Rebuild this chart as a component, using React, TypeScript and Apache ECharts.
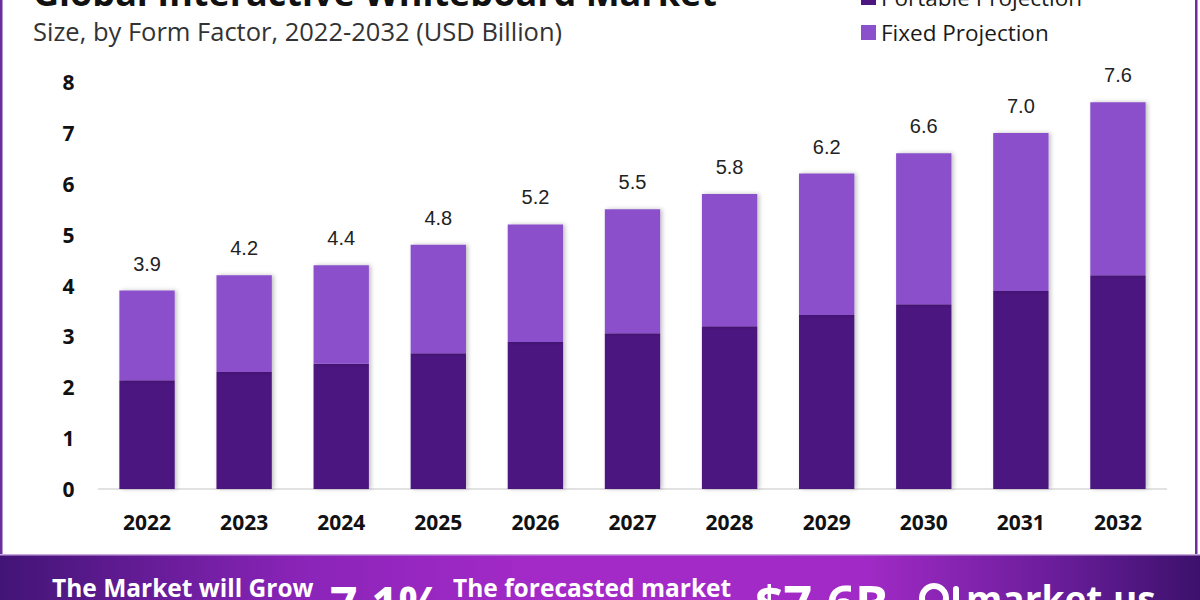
import React, { useEffect, useRef } from "react";
import * as echarts from "echarts";

const years = ["2022", "2023", "2024", "2025", "2026", "2027", "2028", "2029", "2030", "2031", "2032"];
const portable = [2.14, 2.3, 2.46, 2.67, 2.89, 3.06, 3.2, 3.42, 3.63, 3.89, 4.2];
const fixed = [1.76, 1.9, 1.94, 2.13, 2.31, 2.44, 2.6, 2.78, 2.97, 3.11, 3.4];
const totals = ["3.9", "4.2", "4.4", "4.8", "5.2", "5.5", "5.8", "6.2", "6.6", "7.0", "7.6"];
const seriesNames = ["Portable Projection", "Fixed Projection"];

const DARK = "#4b1680";
const LIGHT = "#8b50cb";

export default function App() {
  const ref = useRef<HTMLDivElement>(null);
  useEffect(() => {
    if (!ref.current) return;
    const chart = echarts.init(ref.current, null, { renderer: "svg" });
    const shadow = {
      shadowBlur: 4,
      shadowColor: "rgba(0,0,0,0.25)",
      shadowOffsetX: 2,
      shadowOffsetY: 0,
    };
    const bannerText = (text: string, x: number, y: number, size: number) => ({
      type: "text",
      x,
      y,
      style: {
        text,
        fontFamily: "Open Sans",
        fontWeight: "bold",
        fontSize: size,
        fill: "#ffffff",
        verticalAlign: "middle",
      },
    });
    chart.setOption({
      animation: false,
      backgroundColor: "#ffffff",
      grid: { left: 98.5, right: 33.5, top: 82, bottom: 111, containLabel: false },
      legend: {
        orient: "vertical",
        left: 856,
        top: -19,
        itemWidth: 15,
        itemHeight: 15,
        itemGap: 12,
        icon: "rect",
        data: seriesNames,
        textStyle: {
          fontFamily: "Open Sans",
          fontSize: 22.5,
          fontWeight: 500,
          color: "#1a1a1a",
          lineHeight: 22,
          padding: [0, 0, 0, 0],
        },
      },
      xAxis: {
        type: "category",
        data: years,
        axisLine: { show: true, lineStyle: { color: "#d9d9d9", width: 1.5 } },
        axisTick: { show: false },
        axisLabel: {
          margin: 22,
          fontFamily: "Open Sans",
          fontWeight: "bold",
          fontSize: 21,
          color: "#111",
        },
      },
      yAxis: {
        type: "value",
        min: 0,
        max: 8,
        interval: 1,
        splitLine: { show: false },
        axisLine: { show: false },
        axisTick: { show: false },
        axisLabel: {
          margin: 24,
          fontFamily: "Open Sans",
          fontWeight: "bold",
          fontSize: 21,
          color: "#111",
        },
      },
      series: [
        {
          name: seriesNames[0],
          type: "bar",
          stack: "total",
          data: portable,
          barWidth: "57%",
          itemStyle: { color: DARK, ...shadow },
        },
        {
          name: seriesNames[1],
          type: "bar",
          stack: "total",
          data: fixed,
          barWidth: "57%",
          itemStyle: { color: LIGHT, ...shadow },
          label: {
            show: true,
            position: "top",
            distance: 17,
            fontFamily: "Liberation Sans",
            fontSize: 20,
            color: "#222",
            formatter: (p: any) => totals[p.dataIndex],
          },
        },
      ],
      graphic: [
        {
          type: "text",
          left: 33,
          top: -26,
          style: {
            text: "Global Interactive Whiteboard Market",
            fontFamily: "Open Sans",
            fontWeight: "bold",
            fontSize: 36,
            fill: "#111",
          },
        },
        {
          type: "text",
          x: 33,
          y: 31,
          style: {
            text: "Size, by Form Factor, 2022-2032 (USD Billion)",
            fontFamily: "Open Sans",
            fontSize: 25.5,
            fill: "#333",
            verticalAlign: "middle",
          },
        },
        {
          type: "rect",
          shape: { x: 0, y: 0, width: 2.5, height: 555 },
          style: { fill: "#6b2e9c" },
        },
        {
          type: "rect",
          shape: { x: 1195, y: 0, width: 2.5, height: 555 },
          style: { fill: "#6b2e9c" },
        },
        {
          type: "rect",
          shape: { x: 0, y: 554, width: 1200, height: 46 },
          style: {
            fill: new echarts.graphic.LinearGradient(0, 0, 1, 0, [
              { offset: 0, color: "#421476" },
              { offset: 0.25, color: "#8a24b8" },
              { offset: 0.45, color: "#a42ac8" },
              { offset: 0.72, color: "#a12ac6" },
              { offset: 0.88, color: "#6a1d9a" },
              { offset: 1, color: "#3c116c" },
            ]),
          },
        },
        {
          type: "rect",
          shape: { x: 0, y: 554, width: 1200, height: 1.5 },
          style: { fill: "#c9a6e0" },
        },
        bannerText("The Market will Grow", 52, 587, 24.5),
        bannerText("7.1%", 330, 603, 48),
        bannerText("The forecasted market", 453, 587, 24.5),
        bannerText("$7.6B", 755, 603, 50),
        {
          type: "ring",
          shape: { cx: 934, cy: 598, r: 15, r0: 9 },
          style: { fill: "#ffffff" },
        },
        {
          type: "rect",
          shape: { x: 953, y: 586, width: 6, height: 20, r: 3 },
          style: { fill: "#ffffff" },
        },
        bannerText("market.us", 966, 598, 37),
      ],
    });
    return () => chart.dispose();
  }, []);
  return (
    <div
      ref={ref}
      style={{ position: "fixed", left: 0, top: 0, width: 1200, height: 600 }}
    />
  );
}
